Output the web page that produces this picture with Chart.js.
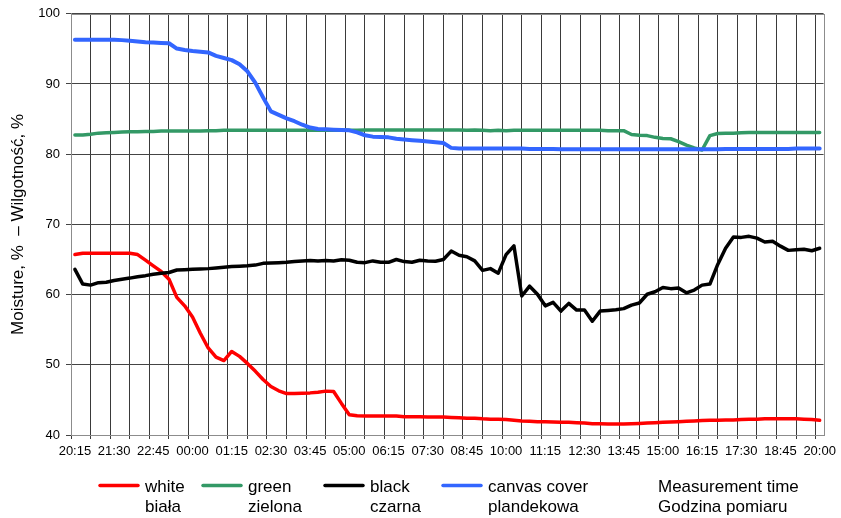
<!DOCTYPE html>
<html lang="pl">
<head>
  <meta charset="UTF-8" />
  <title>Moisture – Wilgotność</title>
  <script src="https://cdn.jsdelivr.net/npm/chart.js@4"></script>
  <style>
    html, body { margin: 0; padding: 0; background: #fff; }
    #wrap { width: 841px; height: 518px; }
  </style>
</head>
<body>
  <div id="wrap"><canvas id="wykres" width="841" height="518"></canvas></div>

  <script>
    // etykiety osi X (co 5 pomiarów, pomiar co 15 min)
    const tickLabels = ["20:15", "21:30", "22:45", "00:00", "01:15", "02:30", "03:45", "05:00", "06:15", "07:30",
                        "08:45", "10:00", "11:15", "12:30", "13:45", "15:00", "16:15", "17:30", "18:45", "20:00"];
    const labelStep = 5;

    const seriesNames = [["white", "biała"], ["green", "zielona"], ["black", "czarna"], ["canvas cover", "plandekowa"]];

    const white = [65.7, 65.9, 65.9, 65.9, 65.9, 65.9, 65.9, 65.9, 65.7, 64.9,
                   64.1, 63.3, 62.2, 59.6, 58.4, 56.8, 54.5, 52.4, 51.1, 50.6,
                   51.9, 51.2, 50.2, 49.1, 47.9, 46.9, 46.3, 45.9, 45.9, 45.95,
                   46.0, 46.1, 46.25, 46.2, 44.5, 42.9, 42.75, 42.7, 42.7, 42.7,
                   42.7, 42.7, 42.6, 42.6, 42.6, 42.55, 42.55, 42.55, 42.5, 42.45,
                   42.4, 42.4, 42.3, 42.25, 42.25, 42.2, 42.1, 42.0, 41.95, 41.9,
                   41.9, 41.85, 41.8, 41.8, 41.75, 41.7, 41.6, 41.6, 41.55, 41.55,
                   41.55, 41.6, 41.65, 41.7, 41.75, 41.8, 41.85, 41.9, 41.95, 42.0,
                   42.05, 42.1, 42.1, 42.15, 42.15, 42.2, 42.25, 42.25, 42.3, 42.3,
                   42.3, 42.3, 42.3, 42.25, 42.2, 42.1];

    const green = [82.75, 82.75, 82.85, 83.0, 83.05, 83.1, 83.15, 83.2, 83.2, 83.25,
                   83.25, 83.3, 83.3, 83.3, 83.3, 83.3, 83.3, 83.35, 83.35, 83.4,
                   83.4, 83.4, 83.4, 83.4, 83.4, 83.4, 83.4, 83.4, 83.4, 83.4,
                   83.4, 83.4, 83.4, 83.4, 83.4, 83.4, 83.4, 83.45, 83.45, 83.45,
                   83.45, 83.45, 83.45, 83.45, 83.45, 83.45, 83.45, 83.45, 83.45, 83.45,
                   83.4, 83.45, 83.4, 83.35, 83.4, 83.35, 83.4, 83.4, 83.4, 83.4,
                   83.4, 83.4, 83.4, 83.4, 83.4, 83.4, 83.4, 83.4, 83.35, 83.35,
                   83.35, 82.8, 82.7, 82.65, 82.4, 82.25, 82.2, 81.8, 81.3, 80.9,
                   80.6, 82.65, 82.95, 83.0, 83.0, 83.05, 83.1, 83.1, 83.1, 83.1,
                   83.1, 83.1, 83.1, 83.1, 83.1, 83.1];

    const black = [63.6, 61.5, 61.35, 61.7, 61.75, 62.0, 62.2, 62.35, 62.55, 62.7,
                   62.9, 63.05, 63.15, 63.5, 63.55, 63.6, 63.65, 63.7, 63.8, 63.9,
                   64.0, 64.05, 64.1, 64.2, 64.45, 64.5, 64.55, 64.6, 64.7, 64.8,
                   64.85, 64.8, 64.85, 64.8, 64.95, 64.9, 64.6, 64.55, 64.8, 64.6,
                   64.6, 65.0, 64.7, 64.6, 64.9, 64.8, 64.75, 65.0, 66.2, 65.6,
                   65.4, 64.8, 63.45, 63.7, 63.05, 65.7, 66.95, 59.8, 61.2, 60.05,
                   58.4, 58.9, 57.65, 58.75, 57.8, 57.8, 56.2, 57.65, 57.75, 57.85,
                   58.0, 58.5, 58.8, 60.05, 60.4, 61.0, 60.85, 60.95, 60.25, 60.65,
                   61.35, 61.5, 64.3, 66.6, 68.2, 68.15, 68.3, 68.05, 67.5, 67.6,
                   66.9, 66.3, 66.4, 66.45, 66.25, 66.6];

    const canvasCover = [96.3, 96.3, 96.3, 96.3, 96.3, 96.3, 96.25, 96.15, 96.05, 95.95,
                         95.9, 95.85, 95.8, 95.05, 94.85, 94.7, 94.6, 94.5, 94.0, 93.7,
                         93.4, 92.8, 91.8, 90.2, 88.1, 86.1, 85.6, 85.1, 84.7, 84.2,
                         83.8, 83.6, 83.55, 83.5, 83.45, 83.4, 83.1, 82.7, 82.5, 82.45,
                         82.4, 82.2, 82.1, 82.0, 81.9, 81.8, 81.7, 81.6, 80.9, 80.8,
                         80.8, 80.8, 80.8, 80.8, 80.8, 80.8, 80.8, 80.8, 80.75, 80.75,
                         80.75, 80.75, 80.7, 80.7, 80.7, 80.7, 80.7, 80.7, 80.7, 80.7,
                         80.7, 80.7, 80.7, 80.7, 80.7, 80.7, 80.7, 80.7, 80.7, 80.7,
                         80.7, 80.7, 80.7, 80.75, 80.75, 80.75, 80.75, 80.75, 80.75, 80.75,
                         80.75, 80.75, 80.8, 80.8, 80.8, 80.8];

    const xTitle = ["Measurement time", "Godzina pomiaru"];
    const yTitle = "Moisture, %  – Wilgotność, %";

    const fontFam = "'Liberation Sans', Arial, sans-serif";
    Chart.defaults.font.family = fontFam;
    Chart.defaults.color = "#000";

    function pts(arr) {
      return arr.map((v, i) => ({ x: i, y: v }));
    }

    // linie siatki co 2,5 pomiaru, etykiety co 5
    const gridTicks = [];
    for (let k = -0.5; k < 95; k += 2.5) gridTicks.push(k);
    const labelTicks = tickLabels.map((t, i) => i * labelStep);

    const ramka = {
      id: "ramka",
      beforeDatasetsDraw(chart) {
        const a = chart.chartArea, c = chart.ctx;
        c.save();
        c.strokeStyle = "#8c8c8c";
        c.lineWidth = 1;
        c.strokeRect(Math.round(a.left) + 0.5, Math.round(a.top) + 0.5,
                     Math.round(a.right) - Math.round(a.left), Math.round(a.bottom) - Math.round(a.top));
        c.restore();
      }
    };

    const legenda = {
      id: "legenda",
      afterDraw(chart) {
        const c = chart.ctx;
        const startX = [100, 203, 325, 443];
        c.save();
        c.font = "17px " + fontFam;
        c.fillStyle = "#000";
        c.textBaseline = "alphabetic";
        chart.data.datasets.forEach((ds, i) => {
          const x0 = startX[i];
          c.strokeStyle = ds.borderColor;
          c.lineWidth = 3.5;
          c.lineCap = "round";
          c.beginPath();
          c.moveTo(x0, 485.5);
          c.lineTo(x0 + 38, 485.5);
          c.stroke();
          c.fillText(seriesNames[i][0], x0 + 45, 491.5);
          c.fillText(seriesNames[i][1], x0 + 45, 511.5);
        });
        c.fillText(xTitle[0], 658, 491.5);
        c.fillText(xTitle[1], 658, 511.5);
        c.restore();
      }
    };

    const kolory = ["#ff0000", "#339966", "#000000", "#3366ff"];
    const serie = [white, green, black, canvasCover];

    new Chart(document.getElementById("wykres"), {
      type: "line",
      data: {
        datasets: serie.map((s, i) => ({
          label: seriesNames[i].join(" / "),
          data: pts(s),
          borderColor: kolory[i],
          borderWidth: i === 3 ? 4 : 3.5,
          pointRadius: 0,
          tension: 0,
          borderJoinStyle: "round",
          borderCapStyle: "round",
          fill: false,
          order: 3 - i
        }))
      },
      options: {
        responsive: false,
        animation: false,
        layout: { padding: { left: 0, top: 11, right: 15, bottom: 0 } },
        plugins: { legend: { display: false }, tooltip: { enabled: false } },
        scales: {
          x: {
            type: "linear",
            min: -0.5,
            max: 95.5,
            afterBuildTicks: s => {
              s.ticks = gridTicks.concat(labelTicks).sort((a, b) => a - b).map(v => ({ value: v }));
            },
            afterFit: s => { s.height = 83; },
            ticks: {
              autoSkip: false,
              maxRotation: 0,
              padding: 5,
              font: { size: 13 },
              color: "#000",
              callback: v => (Number.isInteger(v) && v % labelStep === 0) ? tickLabels[v / labelStep] : ""
            },
            grid: {
              color: ctx => (Number.isInteger(ctx.tick.value) && ctx.tick.value % labelStep === 0) ? "rgba(0,0,0,0)" : "#3a3a3a",
              lineWidth: 1,
              tickLength: 4
            },
            border: { color: "#8c8c8c" }
          },
          y: {
            min: 40,
            max: 100,
            afterFit: s => { s.width = 71; },
            ticks: { stepSize: 10, padding: 6, font: { size: 13 }, color: "#000" },
            grid: { color: "#444", lineWidth: 1, tickLength: 5 },
            border: { color: "#8c8c8c" },
            title: {
              display: true,
              text: yTitle,
              font: { size: 17 },
              color: "#000",
              padding: { top: 8, bottom: 0 }
            }
          }
        }
      },
      plugins: [ramka, legenda]
    });
  </script>
</body>
</html>
